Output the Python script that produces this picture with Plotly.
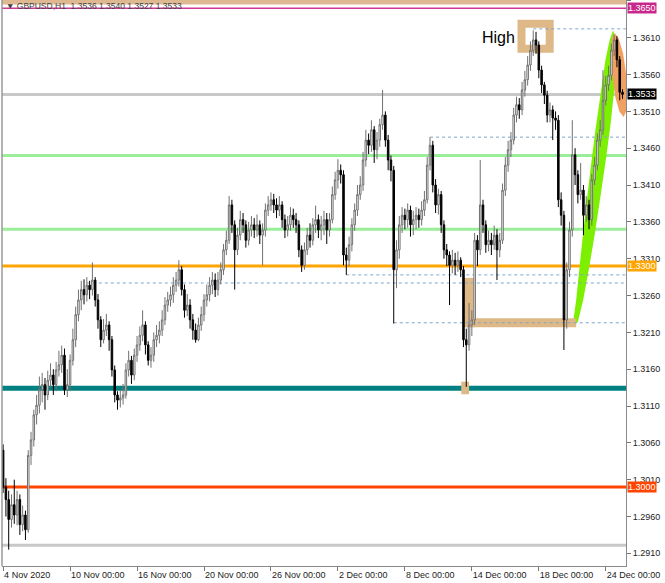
import plotly.graph_objects as go

# ---------------- data ----------------
tick_bars = [0, 24, 48, 72, 96, 120, 144, 168, 192, 216]
tick_labels = ["4 Nov 2020", "10 Nov 00:00", "16 Nov 00:00", "20 Nov 00:00", "26 Nov 00:00",
               "2 Dec 00:00", "8 Dec 00:00", "14 Dec 00:00", "18 Dec 00:00", "24 Dec 00:00"]
price_ticks = [1.2910, 1.2960, 1.3010, 1.3060, 1.3110, 1.3160, 1.3210, 1.3260, 1.3310,
               1.3360, 1.3410, 1.3460, 1.3510, 1.3560, 1.3610, 1.3660]

opens = [
    1.3050, 1.3000, 1.2983, 1.2956, 1.2976, 1.2962, 1.2983, 1.2949, 1.2962, 1.2942,
    1.3043, 1.3064, 1.3098, 1.3111, 1.3132, 1.3139, 1.3125, 1.3145, 1.3152, 1.3139,
    1.3159, 1.3166, 1.3179, 1.3132, 1.3139, 1.3172, 1.3200, 1.3234, 1.3254, 1.3268,
    1.3261, 1.3274, 1.3268, 1.3281, 1.3254, 1.3227, 1.3200, 1.3213, 1.3220, 1.3200,
    1.3159, 1.3125, 1.3118, 1.3121, 1.3125, 1.3159, 1.3172, 1.3152, 1.3179, 1.3193,
    1.3206, 1.3220, 1.3193, 1.3172, 1.3179, 1.3200, 1.3206, 1.3213, 1.3227, 1.3247,
    1.3254, 1.3261, 1.3274, 1.3281, 1.3295, 1.3268, 1.3240, 1.3247, 1.3227, 1.3213,
    1.3200, 1.3220, 1.3234, 1.3254, 1.3261, 1.3274, 1.3281, 1.3268, 1.3281, 1.3295,
    1.3322, 1.3335, 1.3383, 1.3356, 1.3322, 1.3342, 1.3363, 1.3356, 1.3335, 1.3349,
    1.3356, 1.3349, 1.3356, 1.3342, 1.3349, 1.3376, 1.3383, 1.3390, 1.3383, 1.3376,
    1.3383, 1.3363, 1.3349, 1.3356, 1.3369, 1.3363, 1.3356, 1.3322, 1.3301, 1.3322,
    1.3342, 1.3335, 1.3356, 1.3363, 1.3349, 1.3356, 1.3363, 1.3349, 1.3363, 1.3397,
    1.3417, 1.3430, 1.3424, 1.3315, 1.3308, 1.3329, 1.3356, 1.3376, 1.3397, 1.3410,
    1.3444, 1.3471, 1.3464, 1.3485, 1.3458, 1.3471, 1.3492, 1.3505, 1.3471, 1.3444,
    1.3430, 1.3295, 1.3322, 1.3356, 1.3369, 1.3363, 1.3376, 1.3356, 1.3363, 1.3369,
    1.3363, 1.3376, 1.3390, 1.3437, 1.3464, 1.3410, 1.3383, 1.3397, 1.3356, 1.3322,
    1.3315, 1.3301, 1.3308, 1.3301, 1.3308, 1.3295, 1.3200, 1.3193, 1.3220, 1.3227,
    1.3335, 1.3322, 1.3383, 1.3356, 1.3329, 1.3335, 1.3329, 1.3342, 1.3322, 1.3335,
    1.3403, 1.3437, 1.3458, 1.3471, 1.3505, 1.3519, 1.3512, 1.3539, 1.3553, 1.3573,
    1.3593, 1.3607, 1.3600, 1.3566, 1.3546, 1.3532, 1.3505, 1.3512, 1.3501, 1.3498,
    1.3390, 1.3369, 1.3227, 1.3295, 1.3349, 1.3451, 1.3424, 1.3397, 1.3403, 1.3369,
    1.3383, 1.3363, 1.3417, 1.3437, 1.3471, 1.3485, 1.3525, 1.3546, 1.3559, 1.3593,
    1.3607, 1.3580, 1.3536,
]
highs = [
    1.3058, 1.3012, 1.2995, 1.2990, 1.3010, 1.2995, 1.2990, 1.2975, 1.2968, 1.3050,
    1.3075, 1.3105, 1.3125, 1.3150, 1.3155, 1.3148, 1.3158, 1.3168, 1.3160, 1.3170,
    1.3185, 1.3192, 1.3188, 1.3160, 1.3180, 1.3215, 1.3245, 1.3268, 1.3280, 1.3282,
    1.3285, 1.3280, 1.3305, 1.3285, 1.3262, 1.3232, 1.3228, 1.3235, 1.3225, 1.3205,
    1.3165, 1.3130, 1.3132, 1.3140, 1.3168, 1.3185, 1.3178, 1.3188, 1.3205, 1.3218,
    1.3240, 1.3225, 1.3198, 1.3190, 1.3210, 1.3220, 1.3225, 1.3240, 1.3258, 1.3265,
    1.3272, 1.3285, 1.3292, 1.3308, 1.3300, 1.3275, 1.3262, 1.3255, 1.3235, 1.3222,
    1.3230, 1.3245, 1.3262, 1.3275, 1.3285, 1.3292, 1.3290, 1.3292, 1.3305, 1.3330,
    1.3348, 1.3395, 1.3390, 1.3362, 1.3352, 1.3375, 1.3372, 1.3362, 1.3360, 1.3368,
    1.3365, 1.3370, 1.3362, 1.3358, 1.3385, 1.3395, 1.3400, 1.3398, 1.3392, 1.3395,
    1.3388, 1.3370, 1.3368, 1.3380, 1.3378, 1.3372, 1.3362, 1.3328, 1.3332, 1.3352,
    1.3358, 1.3365, 1.3382, 1.3370, 1.3368, 1.3375, 1.3372, 1.3372, 1.3408, 1.3428,
    1.3445, 1.3438, 1.3430, 1.3325, 1.3340, 1.3365, 1.3385, 1.3410, 1.3422, 1.3455,
    1.3485, 1.3480, 1.3498, 1.3490, 1.3482, 1.3500, 1.3539, 1.3510, 1.3478, 1.3450,
    1.3436, 1.3335, 1.3368, 1.3380, 1.3378, 1.3385, 1.3382, 1.3375, 1.3380, 1.3378,
    1.3388, 1.3402, 1.3448, 1.3475, 1.3470, 1.3418, 1.3405, 1.3402, 1.3362, 1.3330,
    1.3320, 1.3322, 1.3318, 1.3320, 1.3312, 1.3300, 1.3215, 1.3250, 1.3240, 1.3345,
    1.3342, 1.3444, 1.3390, 1.3362, 1.3348, 1.3345, 1.3355, 1.3350, 1.3345, 1.3412,
    1.3448, 1.3470, 1.3482, 1.3515, 1.3530, 1.3528, 1.3550, 1.3565, 1.3585, 1.3605,
    1.3620, 1.3618, 1.3605, 1.3572, 1.3550, 1.3538, 1.3522, 1.3518, 1.3510, 1.3505,
    1.3400, 1.3375, 1.3305, 1.3360, 1.3498, 1.3460, 1.3430, 1.3440, 1.3410, 1.3395,
    1.3390, 1.3425, 1.3448, 1.3480, 1.3498, 1.3566, 1.3558, 1.3572, 1.3602, 1.3614,
    1.3612, 1.3585, 1.3540,
]
lows = [
    1.2992, 1.2960, 1.2915, 1.2945, 1.2950, 1.2948, 1.2935, 1.2940, 1.2928, 1.2938,
    1.3030, 1.3055, 1.3085, 1.3100, 1.3115, 1.3105, 1.3118, 1.3135, 1.3125, 1.3130,
    1.3150, 1.3155, 1.3125, 1.3122, 1.3130, 1.3165, 1.3190, 1.3225, 1.3240, 1.3248,
    1.3252, 1.3255, 1.3260, 1.3245, 1.3215, 1.3190, 1.3195, 1.3205, 1.3185, 1.3150,
    1.3115, 1.3105, 1.3108, 1.3112, 1.3120, 1.3150, 1.3140, 1.3145, 1.3170, 1.3185,
    1.3198, 1.3180, 1.3165, 1.3162, 1.3170, 1.3190, 1.3195, 1.3205, 1.3220, 1.3238,
    1.3245, 1.3250, 1.3265, 1.3272, 1.3260, 1.3230, 1.3232, 1.3215, 1.3200, 1.3196,
    1.3198, 1.3212, 1.3225, 1.3245, 1.3252, 1.3262, 1.3258, 1.3260, 1.3275, 1.3288,
    1.3315, 1.3330, 1.3345, 1.3268, 1.3315, 1.3335, 1.3345, 1.3325, 1.3328, 1.3340,
    1.3338, 1.3340, 1.3330, 1.3301, 1.3340, 1.3368, 1.3375, 1.3372, 1.3365, 1.3368,
    1.3352, 1.3338, 1.3340, 1.3348, 1.3352, 1.3345, 1.3312, 1.3292, 1.3295, 1.3315,
    1.3325, 1.3328, 1.3345, 1.3338, 1.3335, 1.3342, 1.3330, 1.3340, 1.3358, 1.3390,
    1.3405, 1.3412, 1.3301, 1.3288, 1.3300, 1.3320, 1.3348, 1.3368, 1.3390, 1.3402,
    1.3435, 1.3452, 1.3455, 1.3440, 1.3445, 1.3462, 1.3485, 1.3462, 1.3430, 1.3415,
    1.3222, 1.3270, 1.3310, 1.3345, 1.3350, 1.3352, 1.3340, 1.3342, 1.3350, 1.3352,
    1.3355, 1.3368, 1.3385, 1.3430, 1.3400, 1.3372, 1.3370, 1.3345, 1.3310, 1.3300,
    1.3247, 1.3290, 1.3288, 1.3292, 1.3285, 1.3190, 1.3136, 1.3185, 1.3205, 1.3220,
    1.3300, 1.3315, 1.3345, 1.3318, 1.3320, 1.3315, 1.3322, 1.3281, 1.3312, 1.3330,
    1.3395, 1.3428, 1.3448, 1.3465, 1.3495, 1.3500, 1.3505, 1.3530, 1.3545, 1.3565,
    1.3585, 1.3588, 1.3555, 1.3535, 1.3520, 1.3495, 1.3495, 1.3471, 1.3485, 1.3380,
    1.3355, 1.3186, 1.3215, 1.3285, 1.3340, 1.3410, 1.3385, 1.3390, 1.3342, 1.3360,
    1.3350, 1.3355, 1.3410, 1.3430, 1.3462, 1.3478, 1.3518, 1.3538, 1.3552, 1.3585,
    1.3570, 1.3525, 1.3527,
]
closes = [
    1.3000, 1.2983, 1.2956, 1.2976, 1.2962, 1.2983, 1.2949, 1.2962, 1.2942, 1.3043,
    1.3064, 1.3098, 1.3111, 1.3132, 1.3139, 1.3125, 1.3145, 1.3152, 1.3139, 1.3159,
    1.3166, 1.3179, 1.3132, 1.3139, 1.3172, 1.3200, 1.3234, 1.3254, 1.3268, 1.3261,
    1.3274, 1.3268, 1.3281, 1.3254, 1.3227, 1.3200, 1.3213, 1.3220, 1.3200, 1.3159,
    1.3125, 1.3118, 1.3121, 1.3125, 1.3159, 1.3172, 1.3152, 1.3179, 1.3193, 1.3206,
    1.3220, 1.3193, 1.3172, 1.3179, 1.3200, 1.3206, 1.3213, 1.3227, 1.3247, 1.3254,
    1.3261, 1.3274, 1.3281, 1.3295, 1.3268, 1.3240, 1.3247, 1.3227, 1.3213, 1.3200,
    1.3220, 1.3234, 1.3254, 1.3261, 1.3274, 1.3281, 1.3268, 1.3281, 1.3295, 1.3322,
    1.3335, 1.3383, 1.3356, 1.3322, 1.3342, 1.3363, 1.3356, 1.3335, 1.3349, 1.3356,
    1.3349, 1.3356, 1.3342, 1.3349, 1.3376, 1.3383, 1.3390, 1.3383, 1.3376, 1.3383,
    1.3363, 1.3349, 1.3356, 1.3369, 1.3363, 1.3356, 1.3322, 1.3301, 1.3322, 1.3342,
    1.3335, 1.3356, 1.3363, 1.3349, 1.3356, 1.3363, 1.3349, 1.3363, 1.3397, 1.3417,
    1.3430, 1.3424, 1.3315, 1.3308, 1.3329, 1.3356, 1.3376, 1.3397, 1.3410, 1.3444,
    1.3471, 1.3464, 1.3485, 1.3458, 1.3471, 1.3492, 1.3505, 1.3471, 1.3444, 1.3430,
    1.3295, 1.3322, 1.3356, 1.3369, 1.3363, 1.3376, 1.3356, 1.3363, 1.3369, 1.3363,
    1.3376, 1.3390, 1.3437, 1.3464, 1.3410, 1.3383, 1.3397, 1.3356, 1.3322, 1.3315,
    1.3301, 1.3308, 1.3301, 1.3308, 1.3295, 1.3200, 1.3193, 1.3220, 1.3227, 1.3335,
    1.3322, 1.3383, 1.3356, 1.3329, 1.3335, 1.3329, 1.3342, 1.3322, 1.3335, 1.3403,
    1.3437, 1.3458, 1.3471, 1.3505, 1.3519, 1.3512, 1.3539, 1.3553, 1.3573, 1.3593,
    1.3607, 1.3600, 1.3566, 1.3546, 1.3532, 1.3505, 1.3512, 1.3501, 1.3498, 1.3390,
    1.3369, 1.3227, 1.3295, 1.3349, 1.3451, 1.3424, 1.3397, 1.3403, 1.3369, 1.3383,
    1.3363, 1.3417, 1.3437, 1.3471, 1.3485, 1.3525, 1.3546, 1.3559, 1.3593, 1.3607,
    1.3580, 1.3536, 1.3533,
]
bars = list(range(len(closes)))

# horizontal levels: (price, colour, width)
level_lines = [
    (1.3650, "#D2369A", 1.5),
    (1.3533, "#C8C8C8", 3),
    (1.3450, "#9AEE9A", 3),
    (1.3350, "#9AEE9A", 3),
    (1.3300, "#FFA500", 3),
    (1.3134, "#008080", 5),
    (1.3000, "#FF4500", 3),
    (1.2921, "#C8C8C8", 3),
]
# dotted levels: (price, starting bar)
dotted_levels = [(1.3622, 190), (1.3475, 153), (1.3288, 123), (1.3277, 30), (1.3223, 140)]
# price labels on the right: (price, text, background)
price_labels = [
    (1.3650, "1.3650", "#C8288C"),
    (1.3533, "1.3533", "#000000"),
    (1.3300, "1.3300", "#FFA500"),
    (1.3000, "1.3000", "#FF4500"),
]

# drawn objects (bar index, price)
tan = "#DEB887"
high_box = (185.8, 195.9, 1.3595, 1.3629)
l_vertical = (165.2, 169.2, 1.3217, 1.3284)
l_horizontal = (165.2, 205.4, 1.3217, 1.3229)
low_mark = (164.2, 167.0, 1.3126, 1.3143)
green_outline = [
    (204.1, 1.3219), (205.4, 1.3254), (206.5, 1.3295), (207.6, 1.3335), (209.0, 1.3383),
    (210.5, 1.3430), (212.3, 1.3485), (214.1, 1.3532), (215.9, 1.3580), (217.4, 1.3607),
    (218.6, 1.3620), (219.8, 1.3607), (219.9, 1.3580), (219.0, 1.3539), (217.7, 1.3492),
    (216.0, 1.3444), (214.2, 1.3397), (212.0, 1.3342), (209.9, 1.3295), (207.9, 1.3254),
    (206.0, 1.3224),
]
orange_outline = [
    (222.4, 1.35024), (223.4, 1.35106), (223.8, 1.35318), (223.3, 1.35604), (222.2, 1.35888),
    (220.6, 1.36092), (219.2, 1.36164), (218.1, 1.36081), (217.8, 1.35870), (218.3, 1.35584),
    (219.4, 1.35300), (220.9, 1.35096),
]

# ---------------- figure ----------------
fig = go.Figure()
fig.add_trace(go.Candlestick(
    x=bars, open=opens, high=highs, low=lows, close=closes,
    increasing=dict(line=dict(color="#707070", width=1), fillcolor="#ffffff"),
    decreasing=dict(line=dict(color="#000000", width=1), fillcolor="#000000"),
    whiskerwidth=0, hoverinfo="skip", showlegend=False,
))

def poly_path(pts):
    return "M " + " L ".join(f"{a},{b}" for a, b in pts) + " Z"

shapes = []
shapes.append(dict(type="rect", xref="paper", yref="y", x0=0, x1=1, y0=1.3655, y1=1.3690,
                   fillcolor="#DDB890", line=dict(width=0), layer="below"))
shapes.append(dict(type="path", path=poly_path(green_outline), xref="x", yref="y",
                   fillcolor="#7CF000", line=dict(width=0), layer="below"))
shapes.append(dict(type="path", path=poly_path(orange_outline), xref="x", yref="y",
                   fillcolor="#F0A060", line=dict(width=0), layer="below"))
for x0, x1, y0, y1 in (l_vertical, l_horizontal, low_mark):
    shapes.append(dict(type="rect", xref="x", yref="y", x0=x0, x1=x1, y0=y0, y1=y1,
                       fillcolor=tan, line=dict(width=0), layer="below"))
shapes.append(dict(type="rect", xref="x", yref="y", x0=high_box[0], x1=high_box[1],
                   y0=high_box[2], y1=high_box[3], line=dict(color=tan, width=8), layer="below"))
for p, start in dotted_levels:
    shapes.append(dict(type="line", xref="x", yref="y", x0=start, x1=240, y0=p, y1=p,
                       line=dict(color="#7FA6C8", width=1, dash="dot"), layer="below"))
for p, col, w in level_lines:
    shapes.append(dict(type="line", xref="paper", yref="y", x0=0, x1=1, y0=p, y1=p,
                       line=dict(color=col, width=w), layer="below"))
shapes.append(dict(type="line", xref="paper", yref="paper", x0=0, x1=0, y0=0, y1=1,
                   line=dict(color="#9a9a9a", width=1.5)))

annotations = []
for p, txt, bg in price_labels:
    annotations.append(dict(xref="paper", yref="y", x=1.0016, y=p, xanchor="left", yanchor="middle",
                            text=txt, showarrow=False, bgcolor=bg, borderpad=0,
                            font=dict(family="Liberation Sans, Arial", size=9, color="white")))
annotations.append(dict(xref="x", yref="y", x=177.4, y=1.3610, text="High", showarrow=False,
                        font=dict(family="Liberation Sans, Arial", size=16, color="black")))
annotations.append(dict(xref="paper", yref="paper", x=0.004, y=0.9895, xanchor="left", yanchor="middle",
                        text="▼ GBPUSD,H1  1.3536 1.3540 1.3527 1.3533", showarrow=False,
                        font=dict(family="Liberation Sans, Arial", size=8.5, color="#404040")))

fig.update_layout(
    width=665, height=583,
    margin=dict(l=2, r=39, t=0, b=17),
    paper_bgcolor="white", plot_bgcolor="white",
    shapes=shapes, annotations=annotations,
    showlegend=False,
    boxgap=0.22,
    xaxis=dict(range=[-0.4, 223.25], tickvals=tick_bars, ticktext=tick_labels,
               ticks="outside", ticklen=4, tickcolor="#777", showgrid=False, zeroline=False,
               showline=True, linecolor="#8a8a8a", linewidth=1,
               ticklabelposition="outside right",
               tickfont=dict(family="Liberation Sans, Arial", size=9, color="#222"),
               rangeslider=dict(visible=False), fixedrange=True),
    yaxis=dict(range=[1.28928, 1.36612], side="right", tickvals=price_ticks, tickformat=".4f",
               ticks="outside", ticklen=4, tickcolor="#777", showgrid=False, zeroline=False,
               showline=True, linecolor="#8a8a8a", linewidth=1,
               tickfont=dict(family="Liberation Sans, Arial", size=9, color="#222"), fixedrange=True),
)

fig.write_html("out.html", config={"displayModeBar": False},
               post_script="document.body.style.margin='0px';document.body.style.overflow='hidden';")
